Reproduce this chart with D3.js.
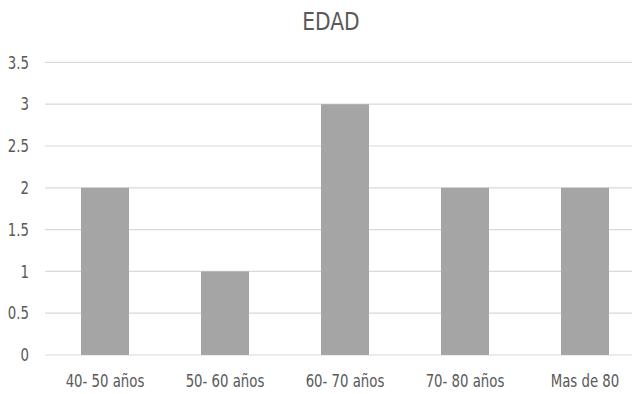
<!DOCTYPE html>
<html>
<head>
<meta charset="utf-8">
<script src="https://cdn.jsdelivr.net/npm/d3@7"></script>
<style>
  html, body { margin: 0; padding: 0; background: #fff; }
  svg { display: block; }
  text { font-family: "Liberation Sans Narrow", "Arial Narrow", "DejaVu Sans Condensed", sans-serif; fill: #595959; }
</style>
</head>
<body>
<svg id="chart" width="632" height="394"></svg>
<script>
const title = "EDAD";
const categories = ["40- 50 años", "50- 60 años", "60- 70 años", "70- 80 años", "Mas de 80"];
const values = [2, 1, 3, 2, 2];
const yTicks = [0, 0.5, 1, 1.5, 2, 2.5, 3, 3.5];

const svg = d3.select("#chart");

const x = d3.scaleBand().domain(categories).range([45, 645])
  .paddingInner(0.6).paddingOuter(0.3);
const y = d3.scaleLinear().domain([0, 3.5]).range([355, 62.4]);

// gridlines
svg.append("g").selectAll("line").data(yTicks).join("line")
  .attr("x1", 45).attr("x2", 645)
  .attr("y1", d => y(d)).attr("y2", d => y(d))
  .attr("stroke", "#d9d9d9").attr("stroke-width", 1.2);

// y labels
svg.append("g").selectAll("text").data(yTicks).join("text")
  .attr("transform", d => `translate(29,${y(d)}) scale(0.87,1)`)
  .attr("dy", "0.36em")
  .attr("text-anchor", "end")
  .style("font-size", "17px")
  .text(d => d);

// bars
svg.append("g").selectAll("rect").data(values).join("rect")
  .attr("x", (d, i) => x(categories[i]))
  .attr("width", x.bandwidth())
  .attr("y", d => y(d))
  .attr("height", d => y(0) - y(d))
  .attr("fill", "#a5a5a5");

// x labels
svg.append("g").selectAll("text").data(categories).join("text")
  .attr("transform", d => `translate(${x(d) + x.bandwidth() / 2},387) scale(0.87,1)`)
  .attr("text-anchor", "middle")
  .style("font-size", "17px")
  .text(d => d);

// title
svg.append("text")
  .attr("transform", "translate(331,30) scale(0.9,1)")
  .attr("text-anchor", "middle")
  .style("font-size", "25px")
  .text(title);
</script>
</body>
</html>
